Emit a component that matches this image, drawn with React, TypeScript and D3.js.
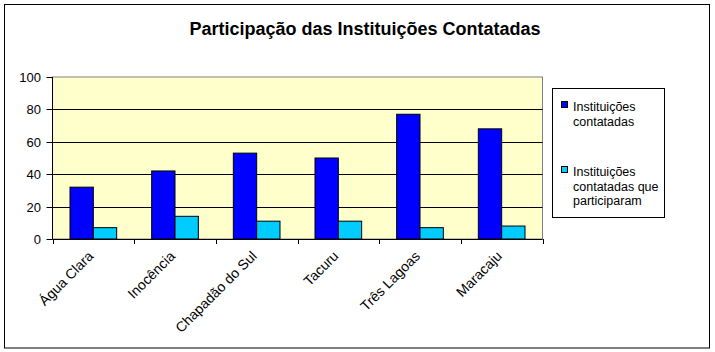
import React from 'react';
import * as d3 from 'd3';

const categories = ['Água Clara', 'Inocência', 'Chapadão do Sul', 'Tacuru', 'Três Lagoas', 'Maracaju'];
const contatadas = [32, 42, 53, 50, 77, 68];
const participaram = [7, 14, 11, 11, 7, 8];
const seriesNames = ['Instituições contatadas', 'Instituições contatadas que participaram'];
const seriesColors = ['#0000FF', '#00CCFF'];
const yTicks = [0, 20, 40, 60, 80, 100];
const legendLines = [['Instituições', 'contatadas'], ['Instituições', 'contatadas que', 'participaram']];

const W = 715, H = 352;
const FONT = '"Liberation Sans", Arial, sans-serif';

export default function App() {
    const left = 52.5, right = 542.5, top = 77, bottom = 239;

    const x0 = d3.scaleBand().domain(categories).range([left, right]).padding(0);
    const x1 = d3.scaleBand().domain(seriesNames).range([0, x0.bandwidth()]).paddingInner(0).paddingOuter(0.75);
    const y = d3.scaleLinear().domain([0, 100]).range([bottom, top]);

    const series = [contatadas, participaram];

    return (
        <svg width={W} height={H} style={{ position: 'absolute', left: 0, top: 0 }} fontFamily={FONT}>
            <rect x={0} y={0} width={W} height={H} fill="#fff" />
            <rect x={4.5} y={4.5} width={705} height={343.5} fill="#fff" stroke="#000" strokeWidth={1} />

            <text x={365} y={35} textAnchor="middle" fontSize={18} fontWeight="bold">
                Participação das Instituições Contatadas
            </text>

            {/* plot area */}
            <rect x={left} y={top} width={right - left} height={bottom - top} fill="#FFFFCC" stroke="#808080" strokeWidth={1} />

            {yTicks.filter(t => t > 0 && t < 100).map(t => (
                <line key={t} x1={left} x2={right} y1={Math.round(y(t)) + 0.5} y2={Math.round(y(t)) + 0.5} stroke="#000" />
            ))}

            {categories.map((c, i) => (
                <g key={c}>
                    {series.map((s, j) => {
                        const bx = x0(c)! + x1(seriesNames[j])!;
                        return (
                            <rect key={j} x={bx} y={y(s[i])} width={x1.bandwidth()} height={bottom - y(s[i])}
                                fill={seriesColors[j]} stroke="#000" strokeWidth={1} />
                        );
                    })}
                </g>
            ))}

            {/* axes */}
            <line x1={left} x2={left} y1={top} y2={bottom} stroke="#000" />
            <line x1={left} x2={right} y1={bottom + 0.5} y2={bottom + 0.5} stroke="#000" />

            {yTicks.map(t => (
                <g key={t}>
                    <line x1={left - 6} x2={left} y1={Math.round(y(t)) + 0.5} y2={Math.round(y(t)) + 0.5} stroke="#000" />
                    <text x={41} y={y(t) + 5} textAnchor="end" fontSize={13}>{t}</text>
                </g>
            ))}

            {d3.range(categories.length + 1).map(i => {
                const tx = Math.round(left + i * x0.step()) + 0.5;
                return <line key={i} x1={tx} x2={tx} y1={bottom} y2={bottom + 5} stroke="#000" />;
            })}

            {categories.map(c => {
                const cx = x0(c)! + x0.bandwidth() / 2 + 1;
                const cy = 257;
                return (
                    <text key={c} x={cx} y={cy} textAnchor="end" fontSize={14}
                        transform={`rotate(-45, ${cx}, ${cy})`}>{c}</text>
                );
            })}

            {/* legend */}
            <rect x={552.5} y={88.5} width={112} height={129} fill="#fff" stroke="#000" />
            {legendLines.map((lines, j) => {
                const base = j === 0 ? 111 : 176;
                return (
                    <g key={j}>
                        <rect x={561.5} y={base - 9.5} width={6} height={6} fill={seriesColors[j]} stroke="#000" />
                        {lines.map((l, k) => (
                            <text key={k} x={573} y={base + k * 14.5} fontSize={12.5}>{l}</text>
                        ))}
                    </g>
                );
            })}
        </svg>
    );
}
